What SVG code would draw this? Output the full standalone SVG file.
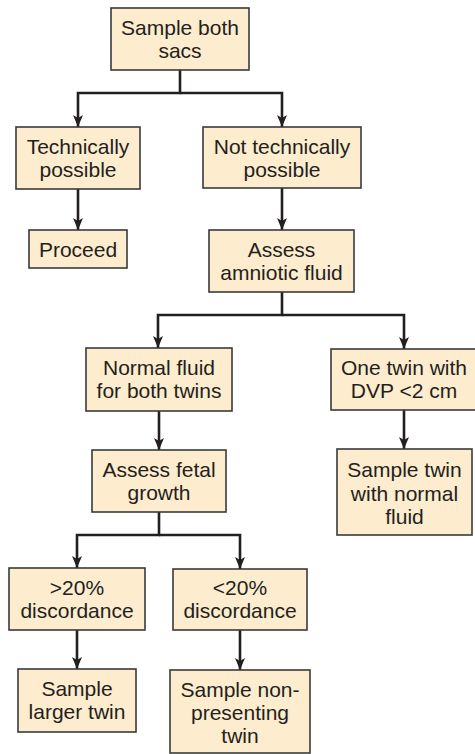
<svg xmlns="http://www.w3.org/2000/svg" width="475" height="754" viewBox="0 0 475 754">
<style>
.box{fill:#fdecce;stroke:#3a3a3a;stroke-width:1.6}
.lbl{font-family:"Liberation Sans",Arial,sans-serif;font-size:21px;fill:#231f20;text-anchor:middle}
.con{fill:none;stroke:#231f20;stroke-width:2.6}
</style>
<defs>
<marker id="ah" markerUnits="userSpaceOnUse" markerWidth="12" markerHeight="10" refX="12" refY="5" orient="auto">
<path d="M0,0 L12,5 L0,10 L3,5 z" fill="#231f20"/>
</marker>
</defs>
<rect width="475" height="754" fill="#ffffff"/>
<g id="connectors">
<path class="con" d="M180,70 V93 H78 V127" marker-end="url(#ah)"/>
<path class="con" d="M180,93 H282 V127" marker-end="url(#ah)"/>
<path class="con" d="M78,189 V230" marker-end="url(#ah)"/>
<path class="con" d="M282,188 V230" marker-end="url(#ah)"/>
<path class="con" d="M282,292 V315 H158 V348" marker-end="url(#ah)"/>
<path class="con" d="M282,315 H404 V349" marker-end="url(#ah)"/>
<path class="con" d="M159,411 V450" marker-end="url(#ah)"/>
<path class="con" d="M404,410 V449" marker-end="url(#ah)"/>
<path class="con" d="M159,512 V535 H77 V568" marker-end="url(#ah)"/>
<path class="con" d="M159,535 H240 V569" marker-end="url(#ah)"/>
<path class="con" d="M77,630 V669" marker-end="url(#ah)"/>
<path class="con" d="M240,630 V670" marker-end="url(#ah)"/>
</g>
<g id="n1"><rect class="box" x="111" y="8" width="138" height="62"/><text class="lbl" x="180" y="35">Sample both</text><text class="lbl" x="180" y="58">sacs</text></g>
<g id="n2"><rect class="box" x="16" y="127" width="124" height="62"/><text class="lbl" x="78" y="154">Technically</text><text class="lbl" x="78" y="177">possible</text></g>
<g id="n3"><rect class="box" x="203" y="127" width="158" height="61"/><text class="lbl" x="282" y="154">Not technically</text><text class="lbl" x="282" y="177">possible</text></g>
<g id="n4"><rect class="box" x="29" y="230" width="98" height="38"/><text class="lbl" x="78" y="257">Proceed</text></g>
<g id="n5"><rect class="box" x="209" y="230" width="145" height="62"/><text class="lbl" x="281.5" y="257">Assess</text><text class="lbl" x="281.5" y="280">amniotic fluid</text></g>
<g id="n6"><rect class="box" x="86" y="348" width="146" height="63"/><text class="lbl" x="159" y="375">Normal fluid</text><text class="lbl" x="159" y="398">for both twins</text></g>
<g id="n7"><rect class="box" x="331" y="349" width="145" height="61"/><text class="lbl" x="404" y="375">One twin with</text><text class="lbl" x="404" y="398">DVP &lt;2 cm</text></g>
<g id="n8"><rect class="box" x="92" y="450" width="134" height="62"/><text class="lbl" x="159" y="477">Assess fetal</text><text class="lbl" x="159" y="500">growth</text></g>
<g id="n9"><rect class="box" x="337" y="449" width="135" height="86"/><text class="lbl" x="404.5" y="477">Sample twin</text><text class="lbl" x="404.5" y="501">with normal</text><text class="lbl" x="404.5" y="524">fluid</text></g>
<g id="n10"><rect class="box" x="9" y="568" width="136" height="62"/><text class="lbl" x="77" y="595">&gt;20%</text><text class="lbl" x="77" y="618">discordance</text></g>
<g id="n11"><rect class="box" x="173" y="569" width="134" height="61"/><text class="lbl" x="240" y="595">&lt;20%</text><text class="lbl" x="240" y="618">discordance</text></g>
<g id="n12"><rect class="box" x="18" y="669" width="118" height="63"/><text class="lbl" x="77" y="696">Sample</text><text class="lbl" x="77" y="719">larger twin</text></g>
<g id="n13"><rect class="box" x="170" y="670" width="140" height="83"/><text class="lbl" x="240" y="697">Sample non-</text><text class="lbl" x="240" y="720">presenting</text><text class="lbl" x="240" y="743">twin</text></g>
</svg>
